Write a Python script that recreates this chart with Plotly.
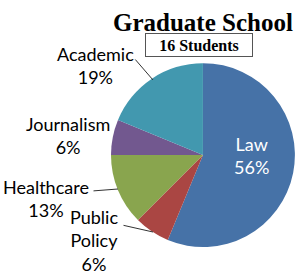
import plotly.graph_objects as go

labels = ["Law", "Public Policy", "Healthcare", "Journalism", "Academic"]
counts = [9, 1, 2, 1, 3]
colors = ["#4672A7", "#AA4643", "#89A54E", "#72588F", "#4298AF"]
title = "Graduate School"
subtitle = "16 Students"

total = sum(counts)
pcts = [int(c / total * 100 + 0.5) for c in counts]

fig = go.Figure(go.Pie(
    labels=labels, values=counts, sort=False, direction="clockwise", rotation=0,
    marker=dict(colors=colors, line=dict(width=0)),
    textinfo="none",
    hoverinfo="skip", showlegend=False,
    domain=dict(x=[0.37, 0.983], y=[0.098, 0.77]),
))

lab_font = dict(family="Lato", size=18, color="black")
ann = [
    dict(x=251, y=155, text=f"{labels[0]}<br>{pcts[0]}%", color="white"),
    dict(x=95, y=65, text=f"{labels[4]}<br>{pcts[4]}%"),
    dict(x=68, y=135, text=f"{labels[3]}<br>{pcts[3]}%"),
    dict(x=46, y=198, text=f"{labels[2]}<br>{pcts[2]}%"),
    dict(x=94, y=240, text="Public<br>Policy<br>" + f"{pcts[1]}%"),
]
annotations = []
for a in ann:
    f = dict(lab_font)
    f["color"] = a.get("color", "black")
    annotations.append(dict(xref="paper", yref="paper", x=a["x"] / 300, y=1 - a["y"] / 274,
                            text=a["text"], showarrow=False, font=f,
                            xanchor="center", yanchor="middle"))
# leader lines
lines = [((134, 58), (153, 80)), ((92, 191), (118, 189)), ((122, 225), (153, 232))]
for (x0, y0), (x1, y1) in lines:
    annotations.append(dict(xref="paper", yref="paper", axref="pixel", ayref="pixel",
                            x=x1 / 300, y=1 - y1 / 274, ax=x0 - x1, ay=y0 - y1,
                            showarrow=True, arrowhead=0, arrowwidth=1, arrowcolor="#333333", text=""))
annotations.append(dict(xref="paper", yref="paper", x=203 / 300, y=1 - 22 / 274, text=f"<b>{title}</b>",
                        showarrow=False, font=dict(family="Liberation Serif", size=25, color="black"),
                        xanchor="center", yanchor="middle"))
annotations.append(dict(xref="paper", yref="paper", x=199 / 300, y=1 - 45 / 274, text=f"<b>{subtitle}</b>",
                        showarrow=False, font=dict(family="Liberation Serif", size=16, color="black"),
                        xanchor="center", yanchor="middle", bordercolor="#555555", borderwidth=1,
                        bgcolor="white", width=104, height=20))

fig.update_layout(width=300, height=274, margin=dict(l=0, r=0, t=0, b=0),
                  paper_bgcolor="white", plot_bgcolor="white", annotations=annotations)
fig.write_html("out.html")
